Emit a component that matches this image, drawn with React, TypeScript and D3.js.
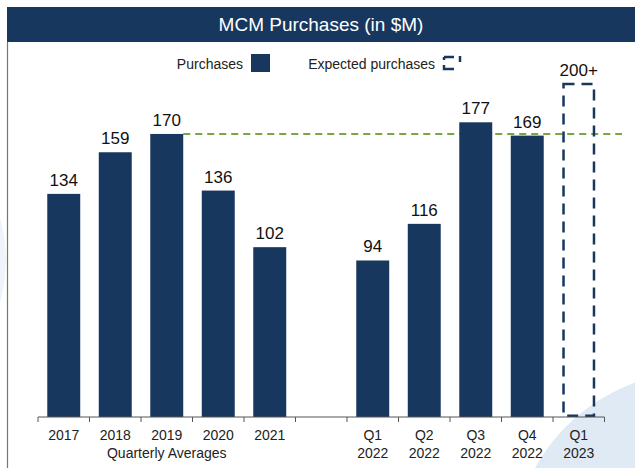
import React from 'react';
import * as d3 from 'd3';

// bar categories (the empty one is the gap between the two groups)
const categories = ['2017', '2018', '2019', '2020', '2021', 'gap', 'Q1 2022', 'Q2 2022', 'Q3 2022', 'Q4 2022', 'Q1 2023'];
const tickLine1 = ['2017', '2018', '2019', '2020', '2021', '', 'Q1', 'Q2', 'Q3', 'Q4', 'Q1'];
const tickLine2 = ['', '', '', '', '', '', '2022', '2022', '2022', '2022', '2023'];
const purchases = [134, 159, 170, 136, 102, null, 94, 116, 177, 169, null];
const expected = [null, null, null, null, null, null, null, null, null, null, 200];
const expectedLabel = '200+';
const referenceValue = 170;

const W = 635;
const H = 468;
const NAVY = '#17375e';

const App = () => {
  const margin = { left: 38, right: 30.5, top: 0, baseline: 417 };

  const x = d3.scaleBand().domain(categories).range([margin.left, W - margin.right]).padding(0);
  const y = d3.scaleLinear().domain([0, 200]).range([margin.baseline, 84]);

  const barW = x.bandwidth() * 0.64;
  const cx = (c) => x(c) + x.bandwidth() / 2;
  const font = 'Liberation Sans, Arial, sans-serif';

  return (
    <svg width={W} height={H} style={{ position: 'absolute', left: 0, top: 0 }} fontFamily={font}>
      <defs>
        <clipPath id="page">
          <rect x={0} y={0} width={W} height={H} />
        </clipPath>
      </defs>
      <rect x={0} y={0} width={W} height={H} fill="#ffffff" />
      {/* faint background decoration */}
      <g clipPath="url(#page)">
        <circle cx={-150} cy={260} r={156} fill="#eef4fa" />
        <circle cx={700} cy={560} r={189} fill="#dfeaf4" />
      </g>

      {/* header */}
      <rect x={7} y={7} width={W - 7} height={35} fill={NAVY} />
      <text x={321} y={31} textAnchor="middle" fill="#ffffff" fontSize={19}>
        MCM Purchases (in $M)
      </text>
      <line x1={7.5} x2={7.5} y1={42} y2={H} stroke="#6f7f5f" strokeWidth={1.2} />

      {/* legend */}
      <text x={243} y={69} textAnchor="end" fontSize={14} fill="#222">Purchases</text>
      <rect x={251} y={54} width={19} height={18} fill={NAVY} />
      <text x={435} y={69} textAnchor="end" fontSize={14} fill="#222">Expected purchases</text>
      <path d="M444,57 h10 M444,57 v3 M444,65 v4 h10" fill="none" stroke={NAVY} strokeWidth={2.5} />
      <line x1={460} x2={460} y1={56} y2={62} stroke={NAVY} strokeWidth={2.5} />

      {/* reference line */}
      <line
        x1={cx('2019') + barW / 2}
        x2={622}
        y1={y(referenceValue)}
        y2={y(referenceValue)}
        stroke="#77a743"
        strokeWidth={2}
        strokeDasharray="7,5"
      />

      {/* bars */}
      {categories.map((c, i) =>
        purchases[i] == null ? null : (
          <g key={c}>
            <rect x={cx(c) - barW / 2} y={y(purchases[i])} width={barW} height={margin.baseline - y(purchases[i])} fill={NAVY} />
            <text x={cx(c)} y={y(purchases[i]) - 8} textAnchor="middle" fontSize={17} fill="#111">
              {purchases[i]}
            </text>
          </g>
        )
      )}

      {/* expected bar */}
      {categories.map((c, i) =>
        expected[i] == null ? null : (
          <g key={'e' + c}>
            <rect
              x={cx(c) - barW / 2 + 1.25}
              y={y(expected[i])}
              width={barW - 2.5}
              height={margin.baseline - y(expected[i]) - 1.25}
              fill="none"
              stroke={NAVY}
              strokeWidth={2.5}
              strokeDasharray="11,7"
            />
            <text x={cx(c)} y={y(expected[i]) - 8} textAnchor="middle" fontSize={17} fill="#111">
              {expectedLabel}
            </text>
          </g>
        )
      )}

      {/* x axis */}
      <line x1={x(categories[0])} x2={W - margin.right} y1={margin.baseline} y2={margin.baseline} stroke="#555" strokeWidth={1} />
      {categories.map((c) => (
        <line key={'t' + c} x1={x(c)} x2={x(c)} y1={margin.baseline} y2={margin.baseline + 5} stroke="#555" />
      ))}
      <line x1={W - margin.right} x2={W - margin.right} y1={margin.baseline} y2={margin.baseline + 5} stroke="#555" />
      {categories.map((c, i) => (
        <g key={'l' + c}>
          <text x={cx(c)} y={440} textAnchor="middle" fontSize={14} fill="#222">{tickLine1[i]}</text>
          <text x={cx(c)} y={458} textAnchor="middle" fontSize={14} fill="#222">{tickLine2[i]}</text>
        </g>
      ))}
      <text x={cx('2019')} y={458} textAnchor="middle" fontSize={14} fill="#222">Quarterly Averages</text>
    </svg>
  );
};

export default App;
